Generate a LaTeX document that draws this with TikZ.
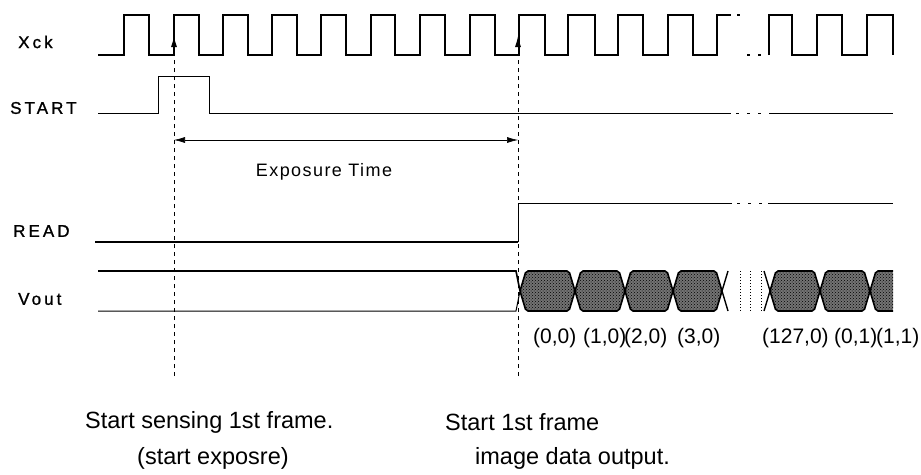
\documentclass[tikz,border=0pt]{standalone}
\usepackage{fontspec}
\setmainfont{Liberation Sans}
\newfontfamily\sigfont[LetterSpace=18,FakeBold=1.2]{Liberation Sans}
\newfontfamily\expfont[LetterSpace=8]{Liberation Sans}
\usetikzlibrary{positioning,arrows.meta,patterns}
\tikzset{
    x=1pt,
    y=-1pt,
    signame/.style = {
        anchor=west,
        inner sep=0pt,
        font=\sigfont\fontsize{17}{17}\selectfont
    },
    wave/.style = {
        draw,
        line width=1.6pt
    },
    thinwave/.style = {
        draw,
        line width=1pt
    },
    marker/.style = {
        draw,
        line width=1pt,
        dash pattern=on 4pt off 4pt
    },
    cell/.style = {
        draw,
        line width=1.6pt,
        rounded corners=2pt,
        preaction={fill=black!55},
        pattern=crosshatch dots
    },
    idx/.style = {
        anchor=west,
        inner sep=0pt,
        font=\fontsize{21}{21}\selectfont
    },
    note/.style = {
        anchor=west,
        inner sep=0pt,
        font=\fontsize{23.5}{23.5}\selectfont
    },
    >={Latex[length=11pt,width=6pt]},
}
\begin{document}
\begin{tikzpicture}
                \useasboundingbox (0,0) rectangle (921,474);

                % signal names
                \node[signame] (xck) at (18,42) {Xck};
                \node[signame] (start) at (10,108) {START};
                \node[signame] (read) at (13,231) {READ};
                \node[signame] (vout) at (18,299) {Vout};

                % Xck
                \path[wave] (98,55) -| (124,15) -| (149,55) -| (174,15) -| (199,55) -| (223,15)
                    -| (248,55) -| (272,15) -| (297,55) -| (321,15) -| (346,55) -| (371,15)
                    -| (395,55) -| (420,15) -| (445,55) -| (470,15) -| (495,55) -| (519,15)
                    -| (545,55) -| (568,15) -| (595,55) -| (618,15) -| (643,55) -| (668,15)
                    -| (693,55) -| (717,15) -- (731,15);
                \path[wave] (737,15) -- (740,15);
                \path[wave] (747,55) -- (750,55);
                \path[wave] (758,55) -- (761,55);
                \path[wave] (769,55) |- (792,15) |- (817,55) |- (842,15) |- (867,55) |- (893,15) -- (893,55);

                % START
                \path[thinwave] (98,113) -| (158,76) -| (209,113) -- (731,113);
                \path[thinwave, dash pattern=on 3pt off 8pt] (736,113) -- (762,113);
                \path[thinwave] (769,113) -- (893,113);

                % READ
                \path[wave, line width=2pt] (95,242) -- (518,242);
                \path[thinwave] (518,242) |- (732,203);
                \path[thinwave, dash pattern=on 3pt off 8pt] (737,203) -- (762,203);
                \path[thinwave] (768,203) -- (893,203);

                % Vout
                \path[wave] (98,271) -- (516,271) -- (520,291);
                \path[thinwave] (98,311) -- (516,311) -- (520,291);
                \path[cell] (520,291) -- (526,271) -- (569,271) -- (575,291) -- (569,311) -- (526,311) -- cycle;
                \path[cell] (575,291) -- (581,271) -- (619,271) -- (625,291) -- (619,311) -- (581,311) -- cycle;
                \path[cell] (625,291) -- (631,271) -- (667,271) -- (673,291) -- (667,311) -- (631,311) -- cycle;
                \path[cell] (673,291) -- (679,271) -- (716,271) -- (722,291) -- (716,311) -- (679,311) -- cycle;
                \path[thinwave, line width=1.4pt] (728,271) -- (722,291) -- (728,311);
                \path[thinwave, dotted] (740,271) -- (740,311);
                \path[thinwave, dotted] (750,271) -- (750,311);
                \path[thinwave, dotted] (761,271) -- (761,311);
                \path[thinwave, line width=1.4pt] (764,271) -- (770,291) -- (764,311);
                \path[cell] (770,291) -- (776,271) -- (814,271) -- (820,291) -- (814,311) -- (776,311) -- cycle;
                \path[cell] (820,291) -- (826,271) -- (864,271) -- (870,291) -- (864,311) -- (826,311) -- cycle;
                \path[cell, draw=none] (870,291) -- (876,271) -- (893,271) -- (893,311) -- (876,311) -- cycle;
                \path[thinwave, line width=1.6pt, rounded corners=2pt] (893,271) -- (876,271) -- (870,291) -- (876,311) -- (893,311);

                % pixel indices
                \node[idx] (p00) at (533,338) {(0,0)};
                \node[idx] (p10) at (583,338) {(1,0)};
                \node[idx] (p20) at (624,338) {(2,0)};
                \node[idx] (p30) at (677,338) {(3,0)};
                \node[idx] (p1270) at (762,338) {(127,0)};
                \node[idx] (p01) at (834,338) {(0,1)};
                \node[idx] (p11) at (876,338) {(1,1)};

                % timing marks
                \coordinate (sensebot) at (174,376);
                \coordinate (senseclk) at (174,36);
                \coordinate (readbot) at (518,376);
                \coordinate (readclk) at (518,36);
                \path[marker, ->] (sensebot) -- (senseclk);
                \path[marker, ->] (readbot) -- (readclk);

                \coordinate (expl) at (174,140);
                \coordinate (expr) at (518,140);
                \path[draw, <->, line width=0.6pt] (expl) -- (expr);
                \node[font=\expfont\fontsize{18}{18}\selectfont] (exptime) at (324,172) {Exposure Time};

                % notes
                \node[note] (sensenote) at (85,422) {Start sensing 1st frame.};
                \node[note] (sensesub) at (137,458) {(start exposre)};
                \node[note] (readnote) at (445,422) {Start 1st frame};
                \node[note] (readsub) at (475,458) {image data output.};
\end{tikzpicture}
\end{document}
